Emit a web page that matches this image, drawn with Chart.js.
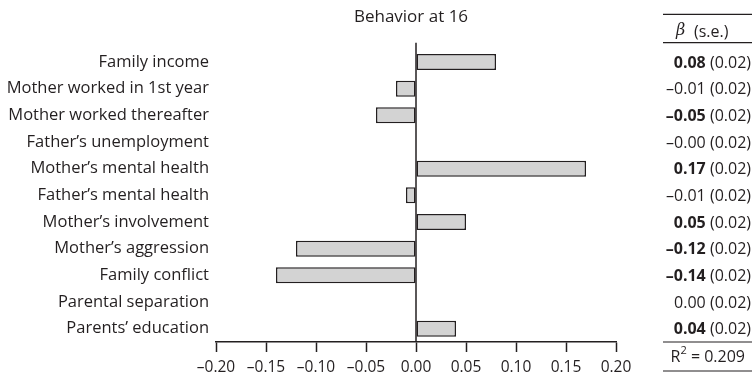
<!DOCTYPE html>
<html>
<head>
<meta charset="utf-8">
<script src="https://cdn.jsdelivr.net/npm/chart.js@4"></script>
<style>
  html, body { margin: 0; padding: 0; background: #fff; }
  #wrap { width: 754px; height: 377px; position: relative; }
</style>
</head>
<body>
<div id="wrap"><canvas id="c" width="754" height="377"></canvas></div>
<script>
// Predictors of behaviour at age 16
const categories = [
  "Family income",
  "Mother worked in 1st year",
  "Mother worked thereafter",
  "Father\u2019s unemployment",
  "Mother\u2019s mental health",
  "Father\u2019s mental health",
  "Mother\u2019s involvement",
  "Mother\u2019s aggression",
  "Family conflict",
  "Parental separation",
  "Parents\u2019 education"
];
// bar lengths (standardised coefficients)
const barValues = [0.08, -0.02, -0.04, 0.00, 0.17, -0.01, 0.05, -0.12, -0.14, 0.00, 0.04];
// coefficient column as printed
const betaText = ["0.08", "\u20130.01", "\u20130.05", "\u20130.00", "0.17", "\u20130.01", "0.05", "\u20130.12", "\u20130.14", "0.00", "0.04"];
const seText = ["0.02", "0.02", "0.02", "0.02", "0.02", "0.02", "0.02", "0.02", "0.02", "0.02", "0.02"];
const significant = [true, false, true, false, true, false, true, true, true, false, true];
const xTicks = [-0.20, -0.15, -0.10, -0.05, 0.00, 0.05, 0.10, 0.15, 0.20];
const titleText = "Behavior at 16";
const r2Text = "0.209";

const INK = "#231f20";
const FONT = "'Open Sans', sans-serif";

const fmt = v => (v < -1e-9 ? "\u2013" : "") + Math.abs(v).toFixed(2);

const decor = {
  id: "decor",
  afterDatasetsDraw(chart) {
    const { ctx, chartArea, scales } = chart;
    const x0 = scales.x.getPixelForValue(0);
    ctx.save();
    // vertical zero line
    ctx.strokeStyle = INK;
    ctx.lineWidth = 1.5;
    ctx.beginPath();
    ctx.moveTo(x0, chartArea.top - 6);
    ctx.lineTo(x0, chartArea.bottom);
    ctx.stroke();

    // title
    ctx.fillStyle = INK;
    ctx.font = "17px " + FONT;
    ctx.textAlign = "center";
    ctx.textBaseline = "middle";
    ctx.fillText(titleText, 411, 17);

    // coefficient table
    const right = 751, lineL = 663, lineR = 752;
    ctx.lineWidth = 1.2;
    [14.3, 42.7, chartArea.bottom, 371].forEach(y => {
      ctx.beginPath();
      ctx.moveTo(lineL, y);
      ctx.lineTo(lineR, y);
      ctx.stroke();
    });

    ctx.textAlign = "left";
    ctx.font = "italic 16px 'DejaVu Serif', serif";
    ctx.fillText("\u03b2", 676, 31);
    ctx.font = "16px " + FONT;
    ctx.fillText("(s.e.)", 694, 32);

    ctx.textAlign = "right";
    categories.forEach((c, i) => {
      const y = scales.y.getPixelForValue(i) + 1;
      const se = " (" + seText[i] + ")";
      ctx.font = "16px " + FONT;
      ctx.fillText(se, right, y);
      const w = ctx.measureText(se).width;
      ctx.font = (significant[i] ? "bold " : "") + "16px " + FONT;
      ctx.fillText(betaText[i], right - w, y);
    });

    // R squared
    ctx.textAlign = "right";
    ctx.font = "16px " + FONT;
    const rest = " = " + r2Text;
    ctx.fillText(rest, 745, 357);
    const rw = ctx.measureText(rest).width;
    ctx.font = "11px " + FONT;
    ctx.fillText("2", 745 - rw, 351);
    const sw = ctx.measureText("2").width;
    ctx.font = "16px " + FONT;
    ctx.fillText("R", 745 - rw - sw, 357);
    ctx.restore();
  }
};

new Chart(document.getElementById("c"), {
  type: "bar",
  data: {
    labels: categories,
    datasets: [{
      data: barValues,
      backgroundColor: "#d3d3d3",
      borderColor: INK,
      borderWidth: 1.5,
      borderSkipped: false,
      categoryPercentage: 1,
      barPercentage: 0.6
    }]
  },
  options: {
    indexAxis: "y",
    responsive: false,
    animation: false,
    devicePixelRatio: 1,
    layout: { padding: { top: 48.7, right: 138, left: 0, bottom: 0 } },
    plugins: { legend: { display: false }, tooltip: { enabled: false }, title: { display: false } },
    scales: {
      x: {
        type: "linear",
        min: -0.2,
        max: 0.2,
        afterBuildTicks: s => { s.ticks = xTicks.map(v => ({ value: v })); },
        afterFit: s => { s.height = 35; },
        grid: { drawOnChartArea: false, drawTicks: true, tickLength: 10, tickColor: INK, tickWidth: 1.5 },
        border: { display: true, color: INK, width: 1.5 },
        ticks: {
          padding: 6,
          color: INK,
          font: { family: FONT, size: 15.5 },
          maxRotation: 0,
          autoSkip: false,
          callback: v => fmt(v)
        }
      },
      y: {
        afterFit: s => { s.width = 216; },
        grid: { display: false, drawTicks: false },
        border: { display: false },
        ticks: {
          padding: 7,
          color: INK,
          font: { family: FONT, size: 16.5 },
          crossAlign: "near",
          autoSkip: false
        }
      }
    }
  },
  plugins: [decor]
});
</script>
</body>
</html>
